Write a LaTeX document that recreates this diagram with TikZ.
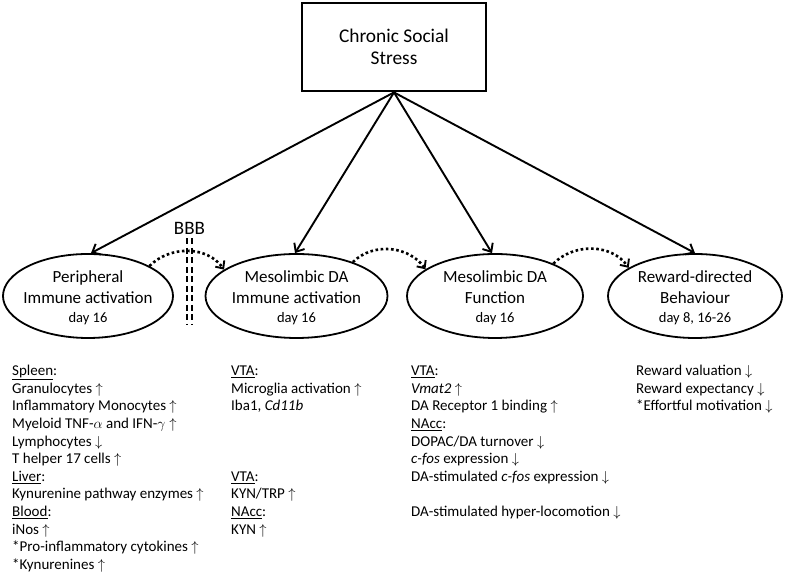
\documentclass[tikz,border=0pt]{standalone}
\usepackage{fontspec}
\setmainfont{Carlito}
\usetikzlibrary{arrows.meta,shapes.geometric}
\begin{document}
\begin{tikzpicture}[x=1pt,y=1pt,
  stressbox/.style={draw, line width=2.8pt, minimum width=184pt, minimum height=88pt, inner sep=0pt, align=center, font=\fontsize{19.4}{22}\selectfont},
  oval/.style={draw, ellipse, line width=1.8pt, minimum height=84pt, inner sep=0pt},
  ovaltext/.style={align=center, inner sep=0pt, font=\fontsize{17}{20.5}\selectfont},
  daytext/.style={},
  listtext/.style={anchor=north west, align=left, inner sep=0pt, font=\fontsize{15}{17.6}\selectfont},
  effect/.style={line width=1.9pt, -{Straight Barb[length=7pt,width=12pt,line width=1.9pt]}},
  link/.style={line width=2.6pt, dash pattern=on 2.6pt off 2.6pt, -{Straight Barb[length=6pt,width=11pt,line width=1.9pt]}},
  barrier/.style={line width=1.7pt, dash pattern=on 6pt off 3.5pt}
]
\useasboundingbox (0,0) rectangle (788,575);

\node[stressbox] (css) at (394,528) {Chronic Social\\Stress};

\node[oval, minimum width=170pt] (e1) at (88,279) {};
\node[oval, minimum width=182pt] (e2) at (296.5,279) {};
\node[oval, minimum width=176pt] (e3) at (495,279) {};
\node[oval, minimum width=174pt] (e4) at (695,279) {};

\newcommand{\daysize}{\fontsize{14.5}{17}\selectfont}
\node[ovaltext] (t1) at ([yshift=-2pt]e1.center) {Peripheral\\Immune activation\\[-1.5pt]{\daysize day 16}};
\node[ovaltext] (t2) at ([yshift=-2pt]e2.center) {Mesolimbic DA\\Immune activation\\[-1.5pt]{\daysize day 16}};
\node[ovaltext] (t3) at ([yshift=-2pt]e3.center) {Mesolimbic DA\\Function\\[-1.5pt]{\daysize day 16}};
\node[ovaltext] (t4) at ([yshift=-2pt]e4.center) {Reward-directed\\Behaviour\\[-1.5pt]{\daysize day 8, 16-26}};

\draw[effect] (css.south) -- (e1.86);
\draw[effect] (css.south) -- (e2.92);
\draw[effect] (css.south) -- (e3.94);
\draw[effect] (css.south) -- (e4.90);

\node[inner sep=0pt, font=\fontsize{19}{22}\selectfont] (bbb) at (189.5,347) {BBB};
\draw[barrier] ([xshift=-2.8pt,yshift=-4pt]bbb.south) -- ++(0,-87);
\draw[barrier] ([xshift=2.8pt,yshift=-4pt]bbb.south) -- ++(0,-87);

\draw[link] (e1.26) to[out=45,in=125] (e2.160);
\draw[link] (e2.31) to[out=45,in=125] (e3.159);
\draw[link] (e3.29.5) to[out=45,in=125] (e4.157.6);

\node[listtext] (l1) at (12,211.8) {\strut\underline{Spleen}:\\
Granulocytes $\uparrow$\\
Inflammatory Monocytes $\uparrow$\\
Myeloid TNF-$\alpha$ and IFN-$\gamma\uparrow$\\
Lymphocytes $\downarrow$\\
T helper 17 cells $\uparrow$\\
\underline{Liver}:\\
Kynurenine pathway enzymes $\uparrow$\\
\underline{Blood}:\\
iNos $\uparrow$\\
*Pro-inflammatory cytokines $\uparrow$\\
*Kynurenines $\uparrow$};

\node[listtext] (l2) at (231,211.8) {\strut\underline{VTA}:\\
Microglia activation $\uparrow$\\
Iba1, \textit{Cd11b}};

\node[listtext] (l3) at (231,106.2) {\strut\underline{VTA}:\\
KYN/TRP $\uparrow$\\
\underline{NAcc}:\\
KYN $\uparrow$};

\node[listtext] (l4) at (411,211.8) {\strut\underline{VTA}:\\
\textit{Vmat2} $\uparrow$\\
DA Receptor 1 binding $\uparrow$\\
\underline{NAcc}:\\
DOPAC/DA turnover $\downarrow$\\
\textit{c-fos} expression $\downarrow$\\
DA-stimulated \textit{c-fos} expression $\downarrow$\\[17.6pt]
DA-stimulated hyper-locomotion $\downarrow$};

\node[listtext] (l5) at (636,211.8) {\strut Reward valuation $\downarrow$\\
Reward expectancy $\downarrow$\\
*Effortful motivation $\downarrow$};
\end{tikzpicture}
\end{document}
